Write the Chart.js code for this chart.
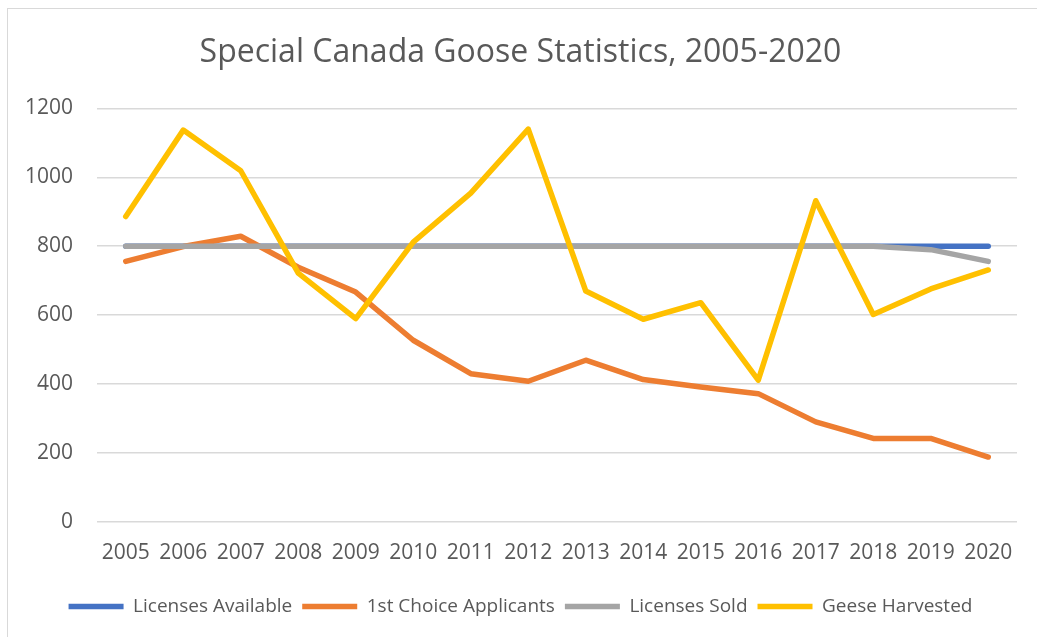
<!DOCTYPE html>
<html>
<head>
<meta charset="utf-8">
<script src="https://cdn.jsdelivr.net/npm/chart.js@4.4.0/dist/chart.umd.min.js"></script>
<style>
    html, body { margin: 0; padding: 0; background: #fff; overflow: hidden; }
    #wrap { position: absolute; left: 7px; top: 8px; width: 1035px; height: 635px; border: 1px solid #d9d9d9; box-sizing: border-box; }
    canvas { display: block; }
</style>
</head>
<body>
<div id="wrap"><canvas id="goose-chart"></canvas></div>
<script>
// =================================================================
// Data
// =================================================================
const years = ['2005', '2006', '2007', '2008', '2009', '2010', '2011', '2012',
    '2013', '2014', '2015', '2016', '2017', '2018', '2019', '2020'];
const licensesAvailable = [800, 800, 800, 800, 800, 800, 800, 800, 800, 800, 800, 800, 800, 800, 800, 800];
const firstChoiceApplicants = [756, 799, 829, 739, 667, 527, 430, 408, 469, 413, 391, 372, 290, 242, 242, 188];
const licensesSold = [800, 800, 800, 800, 800, 800, 800, 800, 800, 800, 800, 800, 800, 800, 790, 756];
const geeseHarvested = [886, 1137, 1019, 722, 590, 812, 954, 1140, 670, 588, 636, 411, 932, 602, 676, 731];
const yTicks = [0, 200, 400, 600, 800, 1000, 1200];

const FONT = "'Open Sans', sans-serif";
const TEXT = '#595959';

// series drawn in Excel order: later series on top
function series(label, data, color, order) {
    return {
        label: label,
        data: data,
        borderColor: color,
        backgroundColor: color,
        borderWidth: 5.5,
        pointRadius: 0,
        pointStyle: 'line',
        tension: 0,
        order: order,
        borderCapStyle: 'round',
        borderJoinStyle: 'round'
    };
}

const ctx = document.getElementById('goose-chart').getContext('2d');
new Chart(ctx, {
    type: 'line',
    data: {
        labels: years,
        datasets: [
            series('Licenses Available', licensesAvailable, '#4472C4', 4),
            series('1st Choice Applicants', firstChoiceApplicants, '#ED7D31', 3),
            series('Licenses Sold', licensesSold, '#A5A5A5', 2),
            series('Geese Harvested', geeseHarvested, '#FFC000', 1)
        ]
    },
    options: {
        responsive: true,
        maintainAspectRatio: false,
        animation: false,
        layout: { padding: { left: 16, right: 24, top: 17, bottom: 16 } },
        plugins: {
            title: {
                display: true,
                text: 'Special Canada Goose Statistics, 2005-2020',
                color: TEXT,
                font: { family: FONT, size: 32, weight: 'normal' },
                padding: { top: 8, bottom: 36 }
            },
            legend: {
                position: 'bottom',
                labels: {
                    color: TEXT,
                    font: { family: FONT, size: 19 },
                    usePointStyle: true,
                    pointStyleWidth: 55,
                    padding: 10,
                    sort: (a, b) => a.datasetIndex - b.datasetIndex
                }
            },
            tooltip: { enabled: false }
        },
        scales: {
            x: {
                offset: true,
                afterFit: axis => { axis.height += 10; },
                grid: { display: false },
                border: { display: false },
                ticks: { color: TEXT, font: { family: FONT, size: 21 }, maxRotation: 0, autoSkip: false, padding: 11 }
            },
            y: {
                min: 0,
                max: 1200,
                afterBuildTicks: axis => { axis.ticks = yTicks.map(v => ({ value: v })); },
                afterFit: axis => { axis.width = 73; },
                grid: { color: '#d9d9d9', lineWidth: 1.5, drawTicks: false },
                border: { display: false },
                ticks: { color: TEXT, font: { family: FONT, size: 21 }, padding: 24, callback: v => String(v) }
            }
        }
    }
});
</script>
</body>
</html>
